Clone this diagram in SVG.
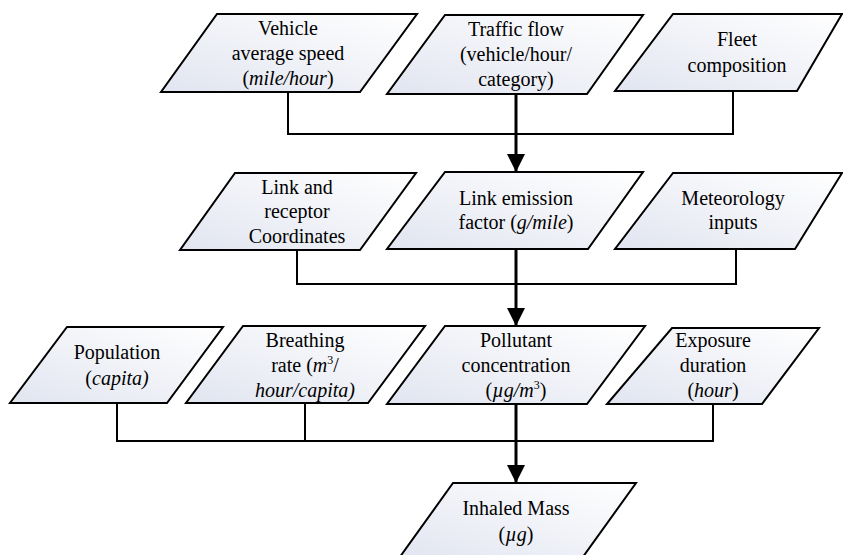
<svg xmlns="http://www.w3.org/2000/svg" width="843" height="555" viewBox="0 0 843 555">
<defs>
<linearGradient id="grad" x1="0" y1="1" x2="1" y2="0">
<stop offset="0" stop-color="#e1e5f0"/>
<stop offset="1" stop-color="#ffffff"/>
</linearGradient>
<marker id="ah" markerUnits="userSpaceOnUse" markerWidth="20" markerHeight="18" refX="18" refY="9" orient="auto">
<path d="M0,0 L18,9 L0,18 Z" fill="#000"/>
</marker>
</defs>
<rect width="843" height="555" fill="#fff"/>
<g id="connectors" fill="none" stroke="#000">
<path stroke-width="2" d="M288,92 V134 H733 V91"/>
<path stroke-width="3" d="M516,94 V172" marker-end="url(#ah)"/>
<path stroke-width="2" d="M297,250 V284 H736 V249"/>
<path stroke-width="3" d="M516,249 V326" marker-end="url(#ah)"/>
<path stroke-width="2" d="M117,403 V441 H713 V404"/>
<path stroke-width="2" d="M305,403 V441"/>
<path stroke-width="3" d="M516,404 V483" marker-end="url(#ah)"/>
</g>
<g id="vehicle-speed">
<polygon fill="url(#grad)" stroke="#000" stroke-width="2" points="217,14 417,14 360,92 161,92"/>
<text font-family="Liberation Serif" font-size="20" text-anchor="middle" x="288" y="35">Vehicle</text>
<text font-family="Liberation Serif" font-size="20" text-anchor="middle" x="288" y="60">average speed</text>
<text font-family="Liberation Serif" font-size="20" text-anchor="middle" x="288" y="85">(<tspan font-style="italic">mile/hour</tspan>)</text>
</g>
<g id="traffic-flow">
<polygon fill="url(#grad)" stroke="#000" stroke-width="2" points="445,15 643,15 587,94 387,94"/>
<text font-family="Liberation Serif" font-size="20" text-anchor="middle" x="516" y="36">Traffic flow</text>
<text font-family="Liberation Serif" font-size="20" text-anchor="middle" x="516" y="61">(vehicle/hour/</text>
<text font-family="Liberation Serif" font-size="20" text-anchor="middle" x="516" y="86">category)</text>
</g>
<g id="fleet-composition">
<polygon fill="url(#grad)" stroke="#000" stroke-width="2" points="673,14 842,14 797,91 615,91"/>
<text font-family="Liberation Serif" font-size="20" text-anchor="middle" x="737" y="46">Fleet</text>
<text font-family="Liberation Serif" font-size="20" text-anchor="middle" x="737" y="72">composition</text>
</g>
<g id="link-receptor">
<polygon fill="url(#grad)" stroke="#000" stroke-width="2" points="235,173 416,173 360,250 180,250"/>
<text font-family="Liberation Serif" font-size="20" text-anchor="middle" x="297" y="194">Link and</text>
<text font-family="Liberation Serif" font-size="20" text-anchor="middle" x="297" y="218">receptor</text>
<text font-family="Liberation Serif" font-size="20" text-anchor="middle" x="297" y="243">Coordinates</text>
</g>
<g id="link-emission">
<polygon fill="url(#grad)" stroke="#000" stroke-width="2" points="445,172 643,172 588,249 387,249"/>
<text font-family="Liberation Serif" font-size="20" text-anchor="middle" x="516" y="205">Link emission</text>
<text font-family="Liberation Serif" font-size="20" text-anchor="middle" x="516" y="229">factor (<tspan font-style="italic">g/mile</tspan>)</text>
</g>
<g id="meteorology">
<polygon fill="url(#grad)" stroke="#000" stroke-width="2" points="673,173 842,173 795,249 615,249"/>
<text font-family="Liberation Serif" font-size="20" text-anchor="middle" x="733" y="205">Meteorology</text>
<text font-family="Liberation Serif" font-size="20" text-anchor="middle" x="733" y="229">inputs</text>
</g>
<g id="population">
<polygon fill="url(#grad)" stroke="#000" stroke-width="2" points="67,327 223,327 167,403 10,403"/>
<text font-family="Liberation Serif" font-size="20" text-anchor="middle" x="117" y="359">Population</text>
<text font-family="Liberation Serif" font-size="20" text-anchor="middle" x="117" y="385">(<tspan font-style="italic">capita)</tspan></text>
</g>
<g id="breathing-rate">
<polygon fill="url(#grad)" stroke="#000" stroke-width="2" points="243,326 425,326 368,403 186,403"/>
<text font-family="Liberation Serif" font-size="20" text-anchor="middle" x="305" y="347">Breathing</text>
<text font-family="Liberation Serif" font-size="20" text-anchor="middle" x="305" y="372">rate (<tspan font-style="italic">m</tspan><tspan font-size="12" dy="-8">3</tspan><tspan dy="8">/</tspan></text>
<text font-family="Liberation Serif" font-size="20" text-anchor="middle" font-style="italic" x="305" y="397">hour/capita)</text>
</g>
<g id="pollutant-concentration">
<polygon fill="url(#grad)" stroke="#000" stroke-width="2" points="445,326 645,326 587,404 387,404"/>
<text font-family="Liberation Serif" font-size="20" text-anchor="middle" x="516" y="347">Pollutant</text>
<text font-family="Liberation Serif" font-size="20" text-anchor="middle" x="516" y="372">concentration</text>
<text font-family="Liberation Serif" font-size="20" text-anchor="middle" x="516" y="397">(<tspan font-style="italic">µg/m</tspan><tspan font-size="12" dy="-8">3</tspan><tspan dy="8">)</tspan></text>
</g>
<g id="exposure-duration">
<polygon fill="url(#grad)" stroke="#000" stroke-width="2" points="672,328 819,328 762,404 607,404"/>
<text font-family="Liberation Serif" font-size="20" text-anchor="middle" x="713" y="347">Exposure</text>
<text font-family="Liberation Serif" font-size="20" text-anchor="middle" x="713" y="372">duration</text>
<text font-family="Liberation Serif" font-size="20" text-anchor="middle" x="713" y="397">(<tspan font-style="italic">hour</tspan>)</text>
</g>
<g id="inhaled-mass">
<polygon fill="url(#grad)" stroke="#000" stroke-width="2" points="453,483 636,483 580,561 397,561"/>
<text font-family="Liberation Serif" font-size="20" text-anchor="middle" x="516" y="515">Inhaled Mass</text>
<text font-family="Liberation Serif" font-size="20" text-anchor="middle" x="516" y="541">(<tspan font-style="italic">µg</tspan>)</text>
</g>
</svg>
